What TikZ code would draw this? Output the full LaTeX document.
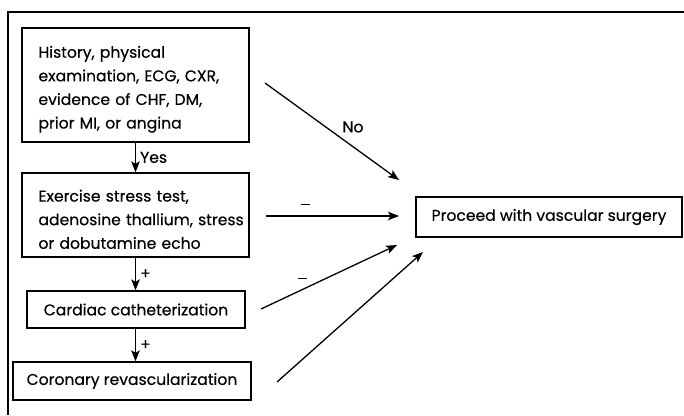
\documentclass[tikz,border=0pt]{standalone}
\usepackage{fontspec}
\setmainfont{Poppins}[FakeBold=0.4]
\usetikzlibrary{arrows.meta}
\hbadness=10000 \hfuzz=100pt
\newcommand{\topgap}{\rule{0pt}{20.5pt}}
\begin{document}
\begin{tikzpicture}[x=1pt,y=-1pt,
  line width=1.3pt,
  box/.style={draw,line width=1.3pt,inner sep=0pt,font=\fontsize{15.6}{23.6}\selectfont},
  flow/.style={-{Stealth[length=11pt,width=8.5pt,inset=2.5pt]},line width=1.3pt},
  lbl/.style={font=\fontsize{15.6}{18}\selectfont,inner sep=1pt}]
\useasboundingbox (0,0) rectangle (684,415);
% open frame: top and left rules
\draw[line width=1.4pt] (684,12) -- (8,12) -- (8,415);

\node[box,minimum width=227pt,minimum height=114pt,text width=194pt,align=left] (hist) at (135.5,85)
  {\topgap\mbox{History, physical}\\\mbox{examination, ECG, CXR,}\\\mbox{evidence of CHF, DM,}\\\mbox{prior MI, or angina}};
\node[box,minimum width=227pt,minimum height=84pt,text width=194pt,align=left] (stress) at (135.5,215)
  {\topgap\mbox{Exercise stress test,}\\\mbox{adenosine thallium, stress}\\\mbox{or dobutamine echo}};
\node[box,minimum width=218pt,minimum height=37pt] (cath) at (136,309.5) {Cardiac catheterization};
\node[box,minimum width=238pt,minimum height=38pt] (revasc) at (132,381) {Coronary revascularization};
\node[box,minimum width=266pt,minimum height=40pt] (surg) at (549,217) {Proceed with vascular surgery};

% vertical flow along one column
\draw[flow] (hist.south) -- node[lbl,right=3pt] {Yes} (hist.south |- stress.north);
\draw[flow] (hist.south |- stress.south) -- node[lbl,right=3pt] {+} (hist.south |- cath.north);
\draw[flow] (hist.south |- cath.south) -- node[lbl,right=3pt] {+} (hist.south |- revasc.north);

% connectors to surgery
\coordinate (noS) at (265,83);   \coordinate (noE) at (399,180);
\coordinate (m1S) at (266,216);  \coordinate (m1E) at (399,216);
\coordinate (m2S) at (261,309);  \coordinate (m2E) at (397,245);
\coordinate (rvS) at (277,382);  \coordinate (rvE) at (423,252);
\draw[flow] (noS) -- (noE);
\node[lbl] (nolbl) at (353,127) {No};
\draw[flow] (m1S) -- (m1E);
\node[lbl] (m1lbl) at (305,205) {\raisebox{2pt}{\rule{9pt}{1pt}}};
\draw[flow] (m2S) -- (m2E);
\node[lbl] (m2lbl) at (302,279) {\raisebox{2pt}{\rule{9pt}{1pt}}};
\draw[flow] (rvS) -- (rvE);
\end{tikzpicture}
\end{document}
